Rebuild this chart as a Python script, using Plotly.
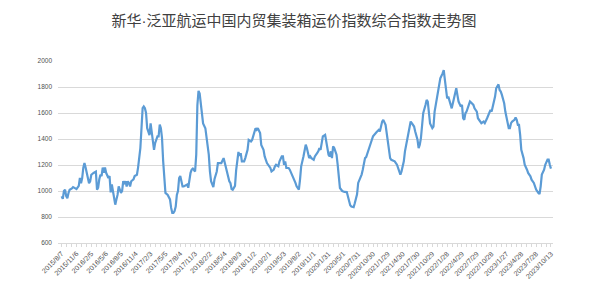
import plotly.graph_objects as go

title_text = "新华·泛亚航运中国内贸集装箱运价指数综合指数走势图"

tick_labels = [
    "2015/8/7", "2015/11/6", "2016/2/5", "2016/5/6", "2016/8/5", "2016/11/4",
    "2017/2/3", "2017/5/5", "2017/8/4", "2017/11/3", "2018/2/2", "2018/5/4",
    "2018/8/3", "2018/11/2", "2019/2/1", "2019/5/3", "2019/8/2", "2019/11/1",
    "2020/1/31", "2020/5/1", "2020/7/31", "2020/10/30", "2021/1/29", "2021/4/30",
    "2021/7/30", "2021/10/29", "2022/1/28", "2022/4/29", "2022/7/29", "2022/10/28",
    "2023/1/27", "2023/4/28", "2023/7/28", "2023/10/13",
]
label_step = 13  # weeks between labelled categories

week = [
    0, 1, 2, 3, 4, 5, 6, 7, 9, 10, 12, 13, 15, 16, 17, 18, 19, 20, 21, 22, 23, 24, 25, 26, 28, 30,
    31, 32, 33, 34, 35, 36, 37, 38, 39, 40, 41, 42, 43, 44, 45, 46, 47, 48, 49, 50, 51, 52, 53, 54,
    55, 56, 57, 58, 59, 60, 61, 63, 64, 66, 67, 68, 69, 70, 71, 72, 73, 74, 75, 76, 77, 78, 79, 80,
    81, 82, 83, 84, 85, 86, 87, 88, 89, 90, 91, 93, 94, 95, 96, 97, 98, 99, 100, 101, 102, 103, 104,
    105, 106, 107, 109, 110, 111, 112, 113, 114, 115, 117, 118, 119, 120, 121, 122, 123, 124, 126,
    127, 129, 130, 131, 133, 134, 136, 137, 139, 140, 142, 143, 144, 145, 146, 147, 148, 149, 150,
    151, 152, 153, 154, 155, 156, 157, 158, 160, 161, 163, 164, 166, 167, 169, 170, 171, 172, 174,
    175, 177, 178, 180, 181, 183, 184, 186, 187, 188, 190, 191, 193, 194, 195, 196, 197, 199, 200,
    202, 203, 205, 206, 208, 209, 210, 212, 213, 214, 215, 217, 218, 219, 221, 222, 224, 225, 226,
    227, 228, 229, 231, 232, 234, 235, 236, 237, 238, 239, 241, 242, 243, 244, 246, 247, 248, 250,
    251, 253, 254, 256, 257, 259, 260, 262, 263, 264, 266, 267, 269, 270, 272, 273, 275, 276, 278,
    279, 281, 282, 284, 285, 286, 287, 288, 289, 291, 292, 294, 295, 297, 298, 300, 301, 303, 305,
    306, 307, 309, 310, 312, 313, 314, 315, 316, 317, 319, 320, 321, 322, 323, 325, 326, 327, 329,
    330, 331, 332, 334, 335, 336, 337, 338, 339, 340, 341, 342, 343, 345, 346, 347, 348, 350, 351,
    352, 353, 354, 355, 357, 358, 359, 361, 362, 364, 365, 367, 368, 370, 371, 373, 374, 376, 377,
    378, 380, 381, 383, 384, 385, 386, 388, 389, 391, 392, 393, 394, 395, 397, 398, 399, 400, 401,
    402, 403, 405, 406, 408, 409, 411, 412, 414, 415, 416, 418, 419, 420, 421, 423, 424, 426, 427,
    428, 429,
]

pdci = [
    960, 940, 1000, 1010, 960, 945, 985, 1010, 1020, 1030, 1020, 1015, 1040, 1100, 1060, 1100, 1180,
    1215, 1180, 1140, 1115, 1060, 1075, 1125, 1140, 1150,
    1010, 1025, 1090, 1125, 1115, 1180, 1140, 1180, 1140, 1115, 1100, 1115, 990, 1050, 1000, 970,
    895, 935, 970, 1035, 1000, 985, 1000, 1075,
    1062, 1075, 1035, 1075, 1062, 1035, 1075, 1090, 1115, 1125, 1180, 1265, 1330, 1483, 1637, 1650,
    1637, 1600, 1483, 1457, 1430, 1520, 1445, 1407,
    1317, 1370, 1407, 1420, 1420, 1510, 1483, 1407, 1230, 1100, 985, 970, 945, 935, 870, 832, 832,
    845, 880, 970, 1000, 1100, 1115,
    1075, 1035, 1035, 1050, 1050, 1025, 1087, 1140, 1165, 1172, 1150, 1280, 1660, 1770, 1750, 1660,
    1585, 1520, 1483,
    1407, 1280, 1150, 1075, 1030, 1090, 1150, 1215, 1215, 1215, 1253, 1215, 1180, 1140, 1090, 1075,
    1060, 1015, 1010,
    1025, 1040, 1160, 1253, 1300, 1270, 1292, 1228, 1228, 1253, 1317, 1393, 1381, 1393, 1458, 1483,
    1470, 1483, 1445,
    1355, 1317, 1266, 1215, 1202, 1177, 1150, 1164, 1190, 1202, 1190, 1228, 1266, 1266, 1202, 1228,
    1177, 1177, 1164,
    1126, 1100, 1062, 1036, 1010, 1087, 1190, 1266, 1305, 1356, 1330, 1253, 1266, 1253, 1240, 1266,
    1292, 1305, 1330,
    1317, 1368, 1420, 1432, 1381, 1279, 1266, 1305, 1253, 1343, 1330, 1279, 1202, 1126, 1023, 1000,
    995, 993, 992,
    954, 890, 880, 875, 906, 975, 1062, 1100, 1126, 1164, 1253, 1260, 1317, 1356, 1394, 1420, 1445,
    1452, 1470,
    1458, 1534, 1547, 1509, 1445, 1356, 1292, 1253, 1240, 1228, 1228, 1202, 1177, 1126, 1151, 1228,
    1305, 1407, 1496,
    1534, 1522, 1496, 1458, 1394, 1330, 1356, 1407, 1496, 1598, 1662, 1700, 1688, 1585, 1520, 1483,
    1495, 1611, 1713,
    1751, 1828, 1866, 1905, 1930, 1854, 1777, 1713, 1726, 1700, 1662, 1636, 1675, 1738, 1790, 1738,
    1688, 1649, 1662,
    1560, 1547, 1598, 1611, 1662, 1688, 1680, 1662, 1636, 1611, 1560, 1534, 1522, 1534, 1522, 1560,
    1585, 1624, 1611,
    1649, 1726, 1790, 1820, 1777, 1765, 1739, 1675, 1611, 1534, 1483, 1483, 1522, 1534, 1547, 1565,
    1547, 1509, 1509,
    1432, 1317, 1253, 1202, 1164, 1139, 1113, 1087, 1062, 1036, 1011, 985, 977, 1036, 1126, 1164,
    1202, 1241, 1241,
    1202, 1172,
]

y_ticks = [600, 800, 1000, 1200, 1400, 1600, 1800, 2000]

label_positions = [i * label_step for i in range(len(tick_labels))]

fig = go.Figure(
    go.Scatter(
        x=week,
        y=pdci,
        mode="lines",
        line=dict(color="#5b9bd5", width=2.2),
        hoverinfo="skip",
    )
)

fig.update_layout(
    width=600,
    height=300,
    margin=dict(l=58, r=47, t=61, b=57),
    paper_bgcolor="white",
    plot_bgcolor="white",
    showlegend=False,
    title=dict(
        text=title_text,
        x=0.49,
        xref="container",
        xanchor="center",
        y=1 - 21 / 300,
        yref="container",
        yanchor="middle",
        font=dict(family="Liberation Sans, Noto Sans CJK SC", size=15, color="#404040"),
    ),
)

fig.update_xaxes(
    range=[-3.2, 430.8],
    tickmode="array",
    tickvals=label_positions,
    ticktext=tick_labels,
    tickangle=-45,
    tickfont=dict(family="Liberation Sans", size=7, color="#505050"),
    showgrid=False,
    zeroline=False,
    showline=True,
    linecolor="#d9d9d9",
    linewidth=1,
    ticks="outside",
    ticklen=3,
    tickcolor="#d9d9d9",
    minor=dict(tickmode="linear", tick0=0, dtick=label_step / 3, ticks="outside",
               ticklen=3, tickcolor="#d9d9d9"),
)

fig.update_yaxes(
    range=[600, 2000],
    tickmode="array",
    tickvals=y_ticks,
    tickfont=dict(family="Liberation Sans", size=6.5, color="#505050"),
    showgrid=True,
    gridcolor="#d9d9d9",
    gridwidth=1,
    zeroline=False,
    showline=False,
    ticks="",
    ticklabelstandoff=5,
)

fig.write_html("out.html")
